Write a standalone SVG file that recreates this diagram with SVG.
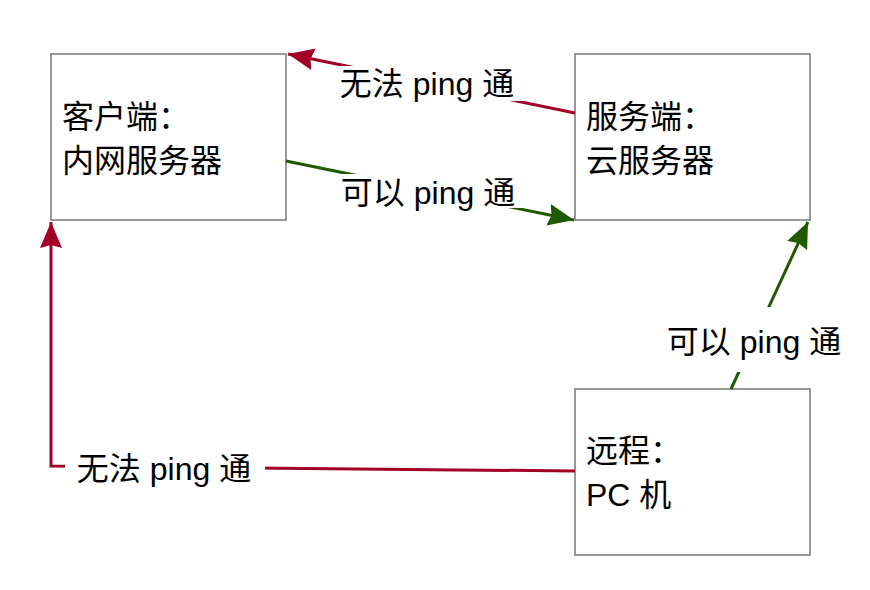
<svg xmlns="http://www.w3.org/2000/svg" width="870" height="590" viewBox="0 0 870 590">
  <style>
    .box { fill: #ffffff; stroke: #777777; stroke-width: 1.5; }
    .t { font-family: "Liberation Sans", "Noto Sans CJK SC", sans-serif; font-size: 32px; fill: #000000; }
    .lbl { text-anchor: middle; }
    .bg { fill: #ffffff; stroke: none; }
    .red { fill: none; stroke: #A20025; stroke-width: 3; }
    .green { fill: none; stroke: #1F5900; stroke-width: 3; }
  </style>
  <defs>
    <marker id="arrRed" markerUnits="userSpaceOnUse" markerWidth="28" markerHeight="24" refX="26" refY="11" orient="auto">
      <path d="M0,0 L26,11 L0,22 L3,11 Z" fill="#A20025"/>
    </marker>
    <marker id="arrGreen" markerUnits="userSpaceOnUse" markerWidth="28" markerHeight="24" refX="26" refY="11" orient="auto">
      <path d="M0,0 L26,11 L0,22 L3,11 Z" fill="#1F5900"/>
    </marker>
  </defs>
  <rect width="870" height="590" fill="#ffffff"/>

  <g id="client">
    <rect class="box" x="51" y="54" width="235" height="166"/>
    <text class="t" x="62" y="128">客户端：</text>
    <text class="t" x="62" y="172">内网服务器</text>
  </g>
  <g id="server">
    <rect class="box" x="575" y="54" width="235" height="166"/>
    <text class="t" x="586" y="128">服务端：</text>
    <text class="t" x="586" y="172">云服务器</text>
  </g>
  <g id="pc">
    <rect class="box" x="575" y="389" width="235" height="166"/>
    <text class="t" x="586" y="462">远程：</text>
    <text class="t" x="586" y="506">PC 机</text>
  </g>

  <g id="connectors">
    <g id="e1">
      <path class="red" d="M575,113 L288,54" marker-end="url(#arrRed)"/>
      <rect class="bg" x="327" y="66" width="201" height="35"/>
      <text class="t lbl" x="427" y="95">无法 ping 通</text>
    </g>
    <g id="e2">
      <path class="green" d="M286,161 L574,220" marker-end="url(#arrGreen)"/>
      <rect class="bg" x="327" y="174" width="201" height="34"/>
      <text class="t lbl" x="428" y="204">可以 ping 通</text>
    </g>
    <g id="e3">
      <path class="green" d="M731,389 L808,222" marker-end="url(#arrGreen)"/>
      <rect class="bg" x="660" y="307" width="188" height="65"/>
      <text class="t lbl" x="754" y="353">可以 ping 通</text>
    </g>
    <g id="e4">
      <path class="red" d="M575,471 L51,466 L51,222" marker-end="url(#arrRed)"/>
      <rect class="bg" x="65" y="452" width="200" height="32"/>
      <text class="t lbl" x="164" y="480">无法 ping 通</text>
    </g>
  </g>
</svg>
